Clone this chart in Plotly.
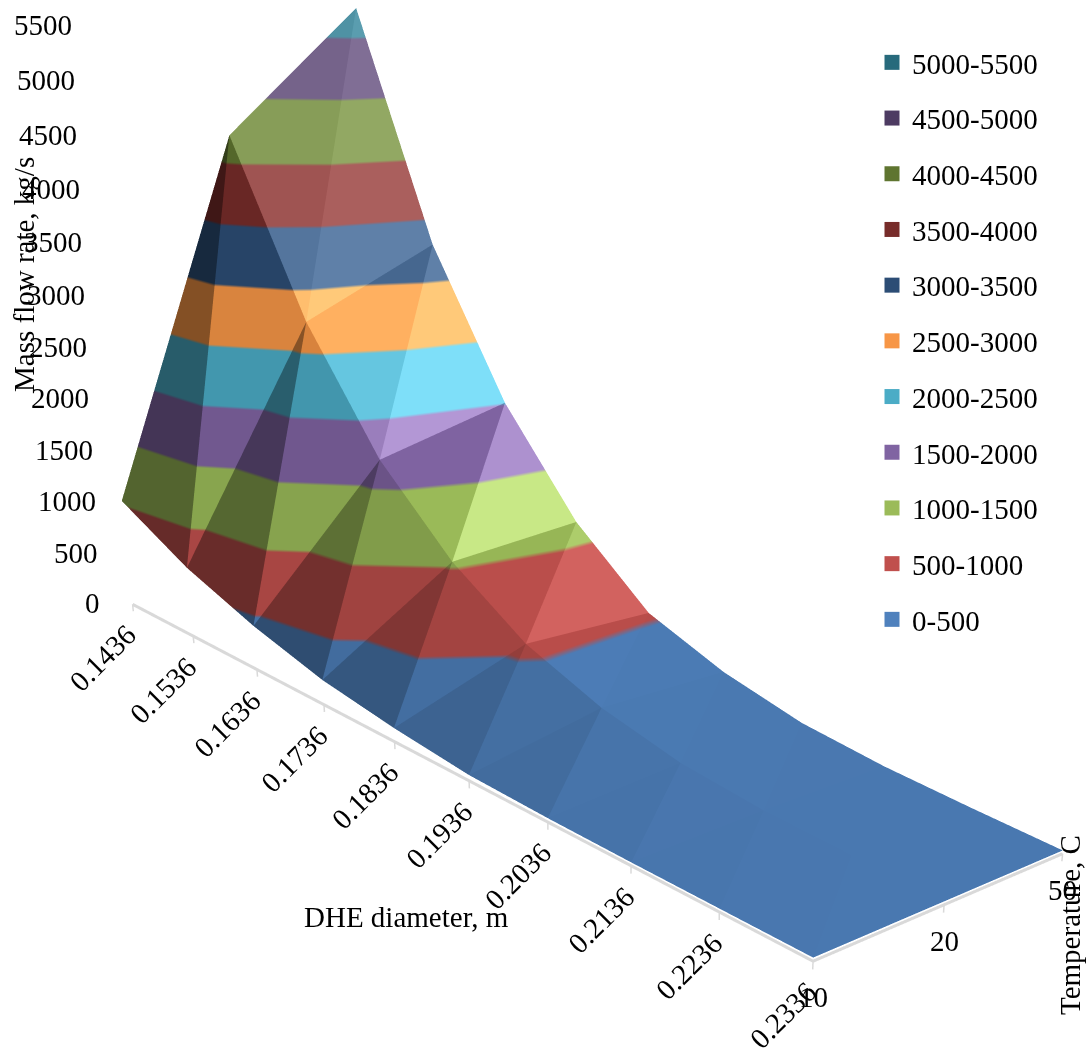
import numpy as np
import plotly.graph_objects as go

# Mass flow rate, kg/s, by DHE diameter (m) and temperature (C)
diameters = ["0.1436", "0.1536", "0.1636", "0.1736", "0.1836", "0.1936", "0.2036", "0.2136", "0.2236", "0.2336"]
temperatures = ["10", "20", "50"]
flow_t10 = [1023, 668, 421, 235, 128, 53, 35, 30, 30, 30]
flow_t20 = [4203, 2735, 1706, 1028, 561, 290, 128, 60, 40, 30]
flow_t50 = [5229, 3274, 2008, 1121, 528, 273, 119, 60, 40, 30]
flow_rows = [flow_t10, flow_t20, flow_t50]

band_labels = ["0-500", "500-1000", "1000-1500", "1500-2000", "2000-2500", "2500-3000",
               "3000-3500", "3500-4000", "4000-4500", "4500-5000", "5000-5500"]
band_colors = ["#4F81BD", "#C0504D", "#9BBB59", "#8064A2", "#4BACC6", "#F79646",
               "#2C4D75", "#772C2A", "#5F7530", "#4D3B62", "#276A7C"]
z_ticks = list(range(0, 6000, 500))

# Per-label offsets that follow the lean of the vertical axis
z_label_dx = [-7, -3, 0, 3, 4, 8, 12, 15, 19, 22, 27, 30]
z_label_dy = [1, 1, 2, 1, 0, -3, -7, -11, -16, -22, -28, -35]

FONT = "Liberation Serif"
ZMIN, ZMAX = -100.0, 5500.0
TICK_DROP = -70
PAGE = 2034  # large canvas: the 45 degree lens then acts like a long one, and the view sits in its top-left corner
ASPECT = dict(x=2.6582, y=0.8208, z=1.5932)


def shade(hex_col, k):
    """Darken by multiplying, brighten by adding white."""
    rgb = [int(hex_col[i:i + 2], 16) for i in (1, 3, 5)]
    if k <= 1:
        vals = [v * k for v in rgb]
    else:
        vals = [v + (k - 1) * 255 for v in rgb]
    return "rgb(%d,%d,%d)" % tuple(min(255, int(round(v))) for v in vals)


def facet_factor(p0, p1, p2):
    """Brightness of one flat facet, from its normal in scene proportions."""
    def w(q):
        return np.array([q[0] / 9 * ASPECT["x"], q[1] / 2 * ASPECT["y"], q[2] / (ZMAX - ZMIN) * ASPECT["z"]])
    n = np.cross(w(p1) - w(p0), w(p2) - w(p0))
    n = n / np.linalg.norm(n)
    if n[2] < 0:
        n = -n
    return min(1.2, 1.17 + 0.8 * abs(n[0]) ** 3 + 0.6 * n[1] - 0.24 * n[2])


nc = len(diameters)
nb = len(band_colors)
fig = go.Figure()

# Each grid cell is split into two flat triangles, drawn with a stepped 500 kg/s colour scale
for r in range(len(flow_rows) - 1):
    for c in range(nc - 1):
        for tri in ([(r, c), (r, c + 1), (r + 1, c)], [(r, c + 1), (r + 1, c + 1), (r + 1, c)]):
            pts = [(cc, rr, flow_rows[rr][cc]) for rr, cc in tri]
            k = facet_factor(*pts)
            scale = []
            for i, col in enumerate(band_colors):
                s = shade(col, k)
                scale += [[i / nb, s], [(i + 1) / nb, s]]
            fig.add_trace(go.Mesh3d(
                x=[q[0] for q in pts], y=[q[1] for q in pts], z=[q[2] for q in pts],
                i=[0], j=[1], k=[2], intensity=[q[2] for q in pts], intensitymode="vertex",
                colorscale=scale, cmin=0, cmax=5500, showscale=False, opacity=1,
                lighting=dict(ambient=1, diffuse=0, specular=0, roughness=1, fresnel=0),
                hoverinfo="skip", showlegend=False,
            ))

# Floor axis lines with short tick marks
tick_x, tick_y, tick_z = [], [], []
for i in range(nc):
    tick_x += [i, i, None]; tick_y += [0, 0, None]; tick_z += [0, TICK_DROP, None]
for j in range(len(temperatures)):
    tick_x += [nc - 1, nc - 1, None]; tick_y += [j, j, None]; tick_z += [0, TICK_DROP, None]
fig.add_trace(go.Scatter3d(x=[0, nc - 1, nc - 1], y=[0, 0, len(temperatures) - 1], z=[0, 0, 0], mode="lines",
                           line=dict(color="#d9d9d9", width=6), hoverinfo="skip", showlegend=False))
fig.add_trace(go.Scatter3d(x=tick_x, y=tick_y, z=tick_z, mode="lines",
                           line=dict(color="#d9d9d9", width=3), hoverinfo="skip", showlegend=False))

# Legend swatches, highest band first
for lab, col in reversed(list(zip(band_labels, band_colors))):
    fig.add_trace(go.Scatter(x=[None], y=[None], mode="markers", name=lab, legendgroup=lab,
                             marker=dict(symbol="square", size=15, color=col)))

tick_font = dict(family=FONT, size=29, color="black")
axis_common = dict(visible=False, showgrid=False, zeroline=False, showbackground=False, showspikes=False,
                   showticklabels=False, title=dict(text=""))

# Tick labels are anchored to the scene's data coordinates
scene_notes = []
for i, t in enumerate(diameters):
    scene_notes.append(dict(x=i, y=0, z=0, text=t, textangle=-45, showarrow=False, font=tick_font,
                            xshift=-30, yshift=-54))
for i, t in enumerate(temperatures):
    scene_notes.append(dict(x=nc - 1, y=i, z=0, text=t, showarrow=False, font=tick_font, yshift=-36))
for t, dx, dy in zip(z_ticks, z_label_dx, z_label_dy):
    scene_notes.append(dict(x=0, y=0, z=t, text=str(t), showarrow=False, font=tick_font,
                            xanchor="right", xshift=-24 + dx, yshift=dy))

fig.update_layout(
    width=PAGE, height=PAGE, margin=dict(l=0, r=0, t=0, b=0),
    paper_bgcolor="white", plot_bgcolor="white",
    xaxis=dict(visible=False), yaxis=dict(visible=False),
    font=dict(family=FONT, size=29, color="black"),
    legend=dict(x=872 / PAGE, y=1 - 37 / PAGE, xanchor="left", yanchor="top", tracegroupgap=15,
                font=dict(family=FONT, size=29), bgcolor="rgba(0,0,0,0)"),
    scene=dict(
        domain=dict(x=[0, 1], y=[0, 1]),
        aspectmode="manual",
        aspectratio=ASPECT,
        camera=dict(eye=dict(x=4.5797, y=-3.7031, z=1.7526),
                    center=dict(x=1.2198, y=0.4293, z=-1.2687),
                    up=dict(x=-0.0589, y=-0.051, z=1),
                    projection=dict(type="perspective")),
        annotations=scene_notes,
        xaxis=dict(axis_common, range=[0, nc - 1]),
        yaxis=dict(axis_common, range=[0, len(temperatures) - 1]),
        zaxis=dict(axis_common, range=[ZMIN, ZMAX]),
    ),
    annotations=[
        dict(text="Mass flow rate, kg/s", x=24 / PAGE, y=1 - 275 / PAGE, xref="paper", yref="paper",
             xanchor="center", yanchor="middle", textangle=-90, showarrow=False),
        dict(text="DHE diameter, m", x=406 / PAGE, y=1 - 917 / PAGE, xref="paper", yref="paper",
             xanchor="center", yanchor="middle", showarrow=False),
        dict(text="Temperature, C", x=1070 / PAGE, y=1 - 925 / PAGE, xref="paper", yref="paper",
             xanchor="center", yanchor="middle", textangle=-90, showarrow=False),
    ],
)
fig.write_html("out.html")
